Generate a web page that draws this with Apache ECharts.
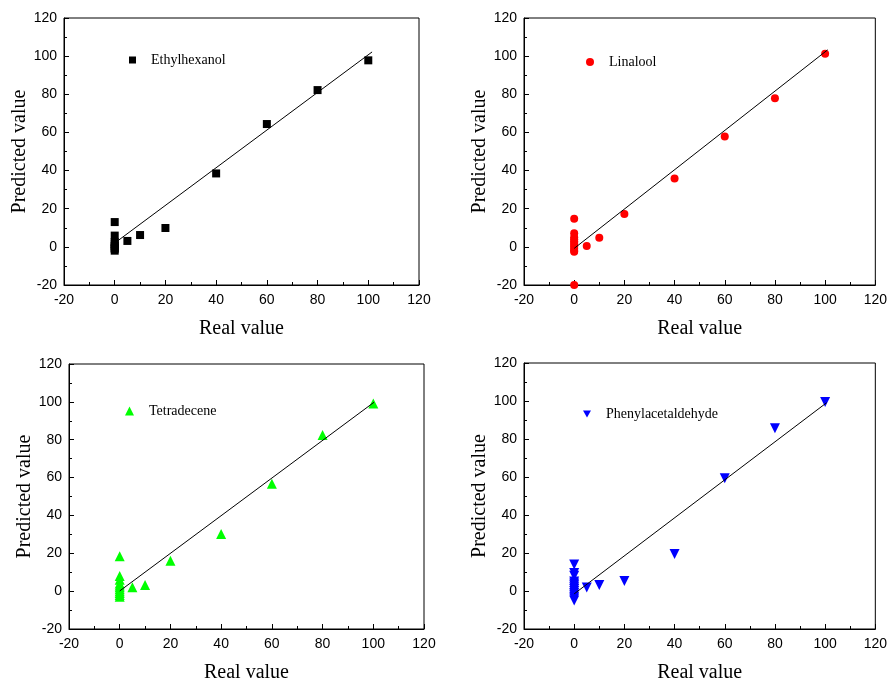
<!DOCTYPE html>
<html>
<head>
<meta charset="utf-8">
<script src="https://cdn.jsdelivr.net/npm/echarts@6/dist/echarts.min.js"></script>
<style>
  html, body { margin: 0; padding: 0; background: #fff; }
  #main { width: 890px; height: 684px; }
</style>
</head>
<body>
<div id="main"></div>
<script>
// 数据: real value / predicted value
var ethReal = [100, 80, 60, 40, 20, 10, 5, 0, 0, 0, 0, 0, 0, 0, 0];
var ethPred = [97.8, 82.2, 64.4, 38.5, 9.9, 6.2, 3.1, 13.0, 5.9, 2.5, 1.5, 0.5, -0.5, -1, -2];
var ethFit = [[0, 2], [101.5, 102.2]];

var linReal = [100, 80, 60, 40, 20, 10, 5, 0, 0, 0, 0, 0, 0, 0, 0, 0, 0, 0, 0];
var linPred = [101.3, 77.9, 57.8, 35.9, 17.2, 4.8, 0.4, 14.8, 7.1, 5, 4, 3, 2, 1, 0, -1, -2, -2.5, -20];
var linFit = [[0, -0.8], [101, 103.3]];

var tetReal = [100, 80, 60, 40, 20, 10, 5, 0, 0, 0, 0, 0, 0, 0, 0, 0, 0, 0];
var tetPred = [99.1, 82.5, 56.7, 30.2, 16.1, 3.2, 2.1, 18.5, 8, 6, 4, 3, 2, 1, 0, -1, -2, -3];
var tetFit = [[0, 0.1], [100.3, 99.8]];

var pheReal = [100, 80, 60, 40, 20, 10, 5, 0, 0, 0, 0, 0, 0, 0, 0, 0, 0, 0, 0, 0, 0];
var phePred = [99.5, 85.7, 59.4, 19.5, 5.2, 3.1, 1.9, 14, 9.5, 8, 5, 4, 3, 2, 1, 0, -1, -2, -3, -4, -5];
var pheFit = [[0, -1.5], [100.6, 99.1]];

var downTri = 'path://M0,0 L10,0 L5,9 Z';

var panels = [
  { name: 'Ethylhexanol', x: ethReal, y: ethPred, fit: ethFit, color: '#000000', symbol: 'rect', size: 8, rotate: 0,
    icon: 'rect', iconSize: 7,
    grid: { left: 64, top: 18, width: 355, height: 267 }, legend: { left: 124, top: 48 } },
  { name: 'Linalool', x: linReal, y: linPred, fit: linFit, color: '#ff0000', symbol: 'circle', size: 8, rotate: 0,
    icon: 'circle', iconSize: 8,
    grid: { left: 524, top: 18, width: 355, height: 267 }, legend: { left: 581, top: 50 } },
  { name: 'Tetradecene', x: tetReal, y: tetPred, fit: tetFit, color: '#00ff00', symbol: 'triangle', size: 10, rotate: 0,
    icon: 'triangle', iconSize: 9,
    grid: { left: 69, top: 364, width: 355, height: 268 }, legend: { left: 120, top: 399 } },
  { name: 'Phenylacetaldehyde', x: pheReal, y: phePred, fit: pheFit, color: '#0000ff', symbol: 'triangle', size: 10, rotate: 180,
    icon: downTri, iconSize: 8,
    grid: { left: 524, top: 363, width: 355, height: 267 }, legend: { left: 578, top: 402 } }
];

var tickFont = { fontFamily: 'Liberation Sans', fontSize: 14, color: '#000' };
var nameFont = { fontFamily: 'Liberation Serif', fontSize: 20, color: '#000' };

var option = { animation: false, backgroundColor: '#fff', grid: [], xAxis: [], yAxis: [], legend: [], series: [] };

panels.forEach(function (p, i) {
  option.grid.push({
    left: p.grid.left, top: p.grid.top, width: p.grid.width, height: p.grid.height,
    show: true, borderColor: '#000', borderWidth: 1, backgroundColor: 'transparent'
  });
  option.xAxis.push({
    gridIndex: i, type: 'value', min: -20, max: 120, interval: 20,
    name: 'Real value', nameLocation: 'middle', nameGap: 34, nameTextStyle: nameFont,
    axisLine: { show: true, onZero: false, lineStyle: { color: '#000', width: 1 } },
    axisTick: { show: true, inside: true, length: 5, lineStyle: { color: '#000' } },
    minorTick: { show: true, splitNumber: 2, length: 3, lineStyle: { color: '#000' } },
    axisLabel: Object.assign({ margin: 8 }, tickFont),
    splitLine: { show: false }
  });
  option.yAxis.push({
    gridIndex: i, type: 'value', min: -20, max: 120, interval: 20,
    name: 'Predicted value', nameLocation: 'middle', nameGap: 33, nameTextStyle: nameFont,
    axisLine: { show: true, onZero: false, lineStyle: { color: '#000', width: 1 } },
    axisTick: { show: true, inside: true, length: 5, lineStyle: { color: '#000' } },
    minorTick: { show: true, splitNumber: 2, length: 3, lineStyle: { color: '#000' } },
    axisLabel: Object.assign({ margin: 7 }, tickFont),
    splitLine: { show: false }
  });
  option.legend.push({
    left: p.legend.left, top: p.legend.top, orient: 'vertical',
    data: [{ name: p.name, icon: p.icon }], itemWidth: p.iconSize, itemHeight: p.iconSize, itemGap: 4,
    itemStyle: { color: p.color },
    textStyle: { fontFamily: 'Liberation Serif', fontSize: 14, color: '#000', padding: [0, 0, 0, 10] }
  });
  option.series.push({
    name: p.name, type: 'scatter', xAxisIndex: i, yAxisIndex: i,
    symbol: p.symbol, symbolSize: p.size, symbolRotate: p.rotate,
    itemStyle: { color: p.color, opacity: 1 },
    data: p.x.map(function (v, k) { return [v, p.y[k]]; })
  });
  option.series.push({
    name: p.name + ' fit', type: 'line', xAxisIndex: i, yAxisIndex: i,
    showSymbol: false, symbol: 'none', silent: true,
    lineStyle: { color: '#000', width: 1 },
    data: p.fit
  });
});

var myChart = echarts.init(document.getElementById('main'), null, { renderer: 'canvas' });
myChart.setOption(option);
</script>
</body>
</html>
